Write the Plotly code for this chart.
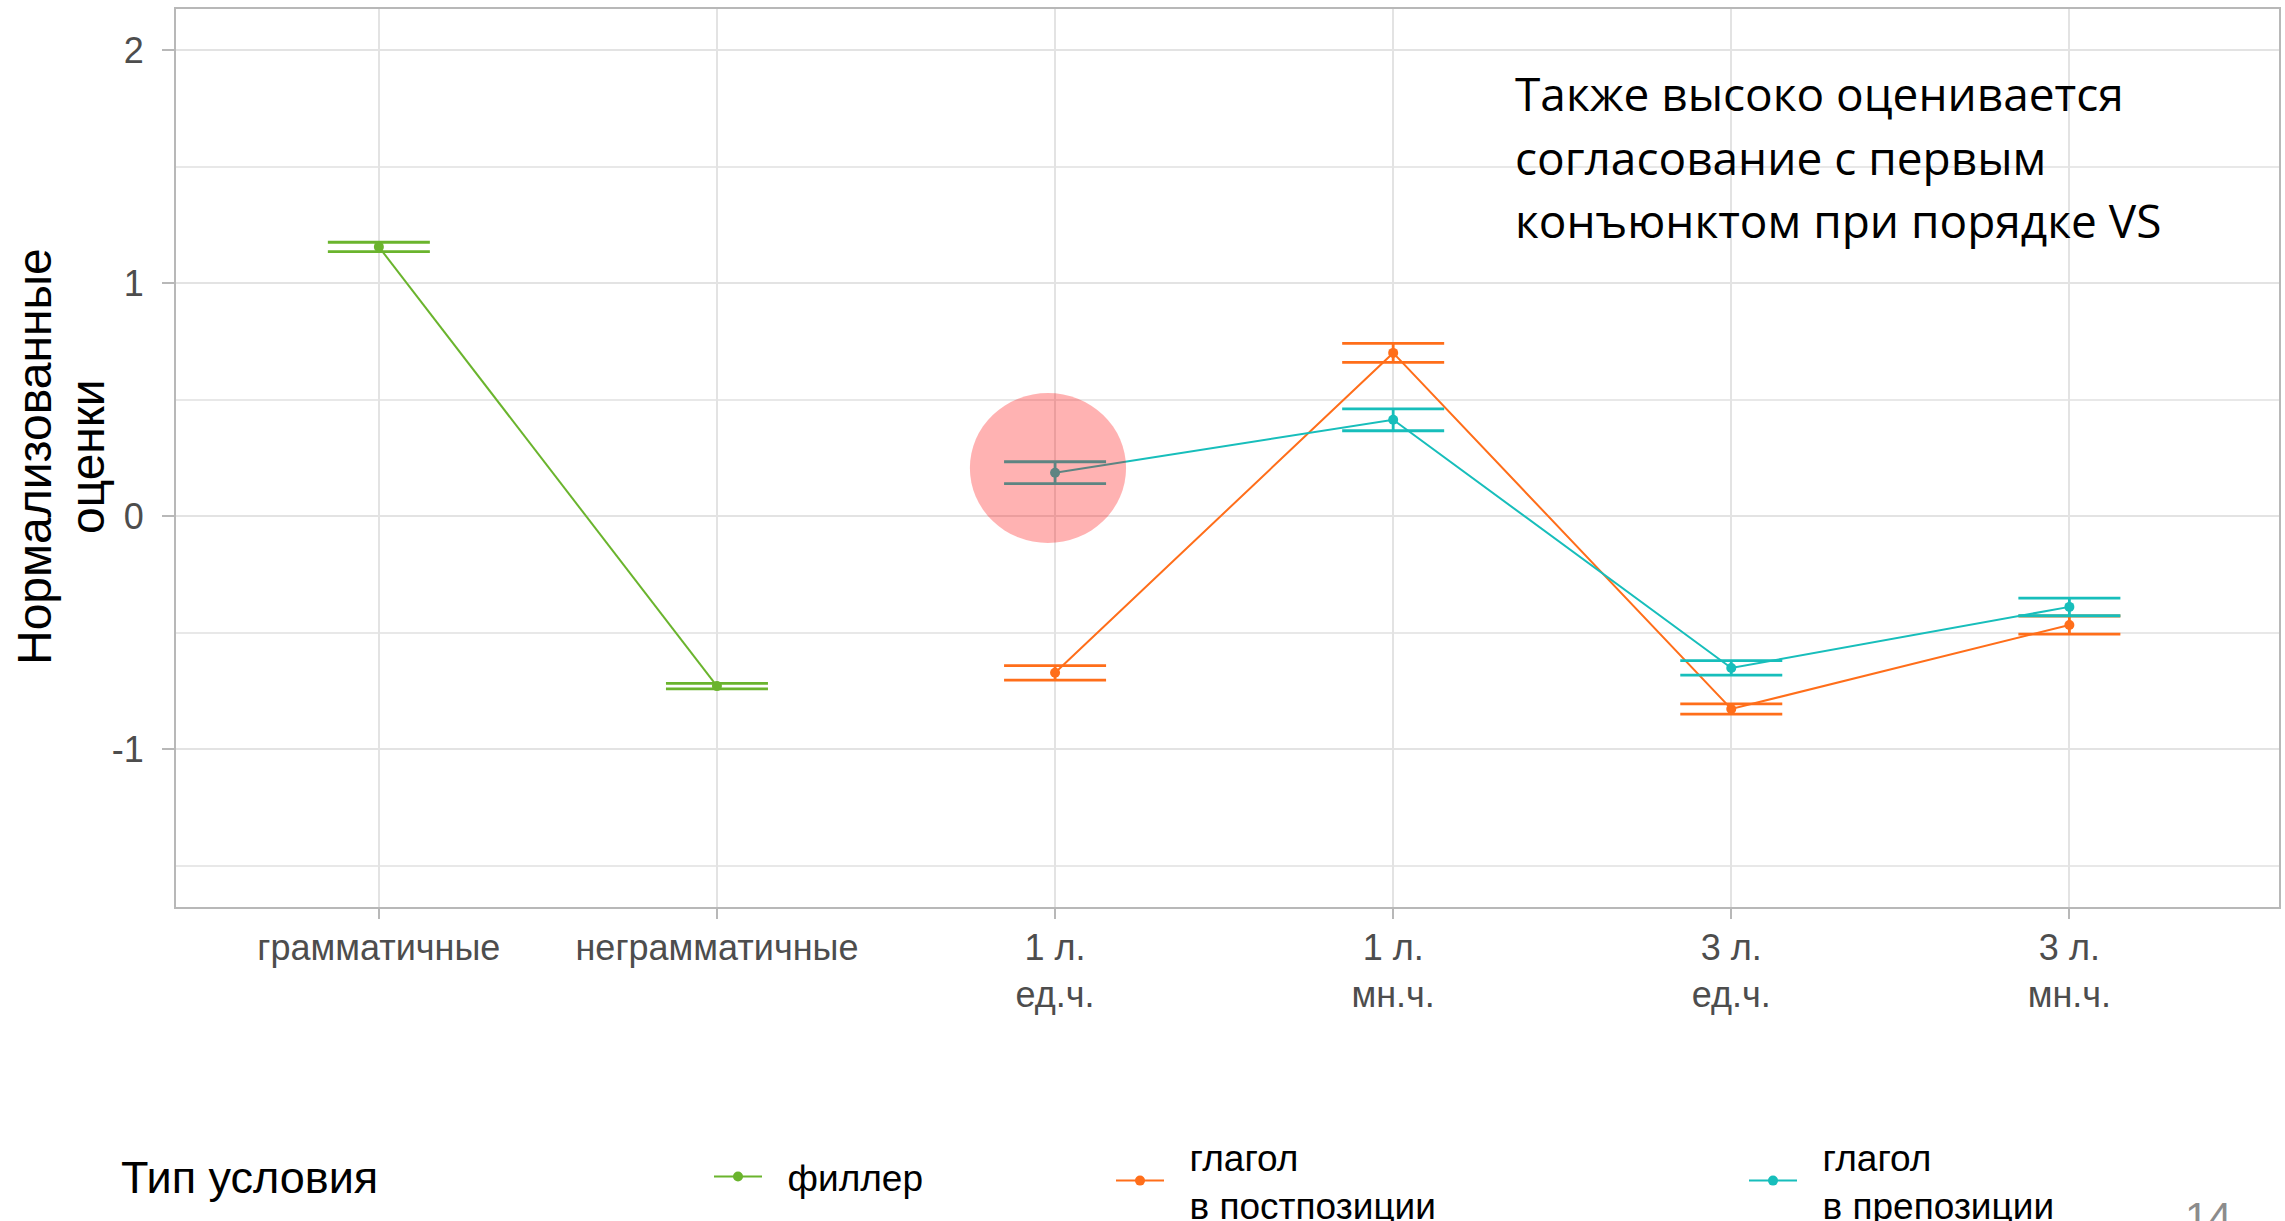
import plotly.graph_objects as go

# ---------------- data ----------------
categories = ["грамматичные", "неграмматичные", "1 л.<br>ед.ч.", "1 л.<br>мн.ч.", "3 л.<br>ед.ч.", "3 л.<br>мн.ч."]

filler_x = ["грамматичные", "неграмматичные"]
filler_y = [1.155, -0.730]
filler_se = [0.020, 0.012]

post_x = ["1 л.<br>ед.ч.", "1 л.<br>мн.ч.", "3 л.<br>ед.ч.", "3 л.<br>мн.ч."]
post_y = [-0.673, 0.700, -0.828, -0.468]
post_se = [0.031, 0.041, 0.022, 0.039]

pre_x = ["1 л.<br>ед.ч.", "1 л.<br>мн.ч.", "3 л.<br>ед.ч.", "3 л.<br>мн.ч."]
pre_y = [0.186, 0.413, -0.652, -0.390]
pre_se = [0.047, 0.047, 0.031, 0.038]

series_names = ["филлер", "глагол<br>в постпозиции", "глагол<br>в препозиции"]
series_colors = ["#6AB42D", "#FF6E1A", "#17BEBB"]

y_tickvals = [-1, 0, 1, 2]
y_ticktext = ["-1", "0", "1", "2"]
y_minor = [-1.5, -0.5, 0.5, 1.5]

y_title_lines = ["Нормализованные", "оценки"]
note_lines = ["Также высоко оценивается", "согласование с первым", "конъюнктом при порядке VS"]

# ---------------- figure ----------------
W, H = 2285, 1221
L, R, T, B = 176, 6, 9, 314
PW, PH = W - L - R, H - T - B

def px_x(x):
    return (x - L) / PW

def px_y(y):
    return (H - B - y) / PH

FONT = "Liberation Sans, Arial, sans-serif"
PAD = "\u00a0\u00a0"

fig = go.Figure()
series = [(filler_x, filler_y, filler_se), (post_x, post_y, post_se), (pre_x, pre_y, pre_se)]
legend_ids = ["legend", "legend2", "legend3"]
for (xs, ys, se), name, col, lg in zip(series, series_names, series_colors, legend_ids):
    label = "<br>".join(PAD + part for part in name.split("<br>"))
    fig.add_trace(go.Scatter(
        x=xs, y=ys, name=label, mode="lines+markers",
        line=dict(color=col, width=2),
        marker=dict(color=col, size=10),
        error_y=dict(type="data", array=se, visible=True, color=col, thickness=2.8, width=51),
        legend=lg,
    ))

# highlight circle
fig.add_shape(type="circle", xref="x", yref="y",
              x0=1.748, x1=2.21, y0=-0.116, y1=0.528,
              fillcolor="rgba(255,0,0,0.30)", line=dict(width=0), layer="above")

# y-axis title (two rotated lines)
for txt, xc in zip(y_title_lines, [34, 87]):
    fig.add_annotation(text=txt, xref="paper", yref="paper", x=px_x(xc), y=px_y(457),
                       xanchor="center", yanchor="middle", textangle=-90, showarrow=False,
                       font=dict(family=FONT, size=48, color="black"))

# note text
note_centers = [93, 157, 220]
for txt, yc in zip(note_lines, note_centers):
    fig.add_annotation(text=txt, xref="paper", yref="paper", x=px_x(1513), y=px_y(yc),
                       xanchor="left", yanchor="middle", showarrow=False,
                       font=dict(family="Open Sans, Noto Sans, sans-serif", size=46, color="black"))

# legend title
fig.add_annotation(text="Тип условия", xref="paper", yref="paper", x=px_x(119), y=px_y(1177),
                   xanchor="left", yanchor="middle", showarrow=False,
                   font=dict(family=FONT, size=45, color="black"))

# page number
fig.add_annotation(text="14", xref="paper", yref="paper", x=px_x(2208), y=px_y(1192),
                   xanchor="center", yanchor="top", showarrow=False,
                   font=dict(family=FONT, size=42, color="#8C8C8C"))

leg_common = dict(orientation="v", xref="container", yref="container",
                  xanchor="left", yanchor="middle",
                  font=dict(family=FONT, size=37, color="black"), bgcolor="rgba(0,0,0,0)",
                  itemwidth=48, valign="middle", tracegroupgap=0)
leg_x = [709, 1111, 1744]
fig.update_layout(
    width=W, height=H, showlegend=True,
    margin=dict(l=L, r=R, t=T, b=B, autoexpand=False),
    paper_bgcolor="white", plot_bgcolor="white",
    legend=dict(x=leg_x[0] / W, y=1 - 1177 / H, **leg_common),
    legend2=dict(x=leg_x[1] / W, y=1 - 1181 / H, **leg_common),
    legend3=dict(x=leg_x[2] / W, y=1 - 1181 / H, **leg_common),
    font=dict(family=FONT),
)

fig.update_xaxes(
    type="category", categoryorder="array", categoryarray=categories,
    range=[-0.60, 5.62], automargin=False,
    showgrid=True, gridcolor="#E3E3E3", gridwidth=1.5,
    showline=True, linecolor="#B8B8B8", linewidth=2, mirror=True,
    ticks="outside", ticklen=10, tickwidth=1.5, tickcolor="#B8B8B8",
    ticklabelstandoff=-2,
    tickfont=dict(family=FONT, size=36, color="#4D4D4D"), tickangle=0,
    zeroline=False,
)
fig.update_yaxes(
    range=[-1.678, 2.176], automargin=False,
    tickvals=y_tickvals, ticktext=y_ticktext,
    showgrid=True, gridcolor="#E3E3E3", gridwidth=2,
    minor=dict(tickvals=y_minor, showgrid=True, gridcolor="#E8E8E8", gridwidth=2, ticks=""),
    showline=True, linecolor="#B8B8B8", linewidth=2, mirror=True,
    ticks="outside", ticklen=12, tickwidth=1.5, tickcolor="#B8B8B8",
    ticklabelstandoff=11,
    tickfont=dict(family=FONT, size=36, color="#4D4D4D"),
    zeroline=False,
)

fig.write_html("out.html", config={"displayModeBar": False},
               post_script="document.body.style.margin='0';document.body.style.overflow='hidden';")
